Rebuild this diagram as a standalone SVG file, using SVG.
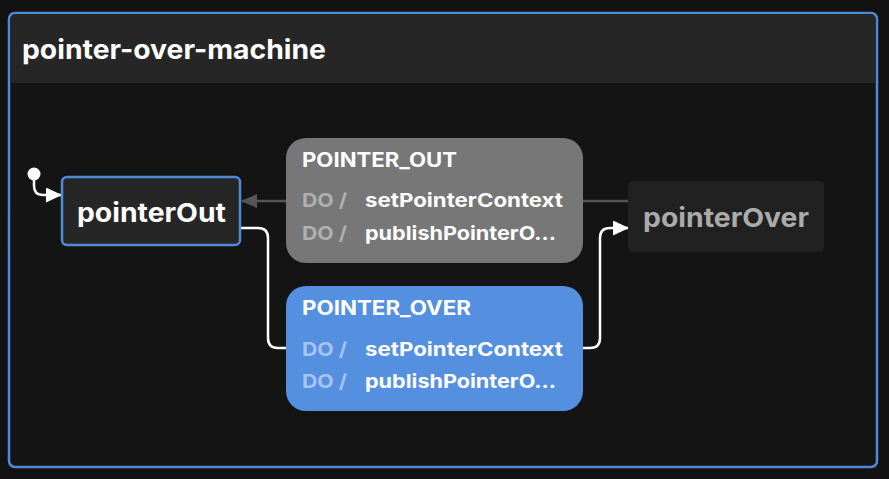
<svg xmlns="http://www.w3.org/2000/svg" width="889" height="479" viewBox="0 0 889 479">
<style>
text{font-family:Inter,"Liberation Sans",sans-serif;font-weight:700}
.title{font-size:27px;fill:#fff}
.state{font-size:26px}
.ev{font-size:19.5px;fill:#fff}
.do{font-size:19px}
.act{font-size:19px;fill:#fff}
</style>
<defs>
<marker id="aw" markerWidth="16" markerHeight="15" refX="15" refY="7.5" orient="auto" markerUnits="userSpaceOnUse"><path d="M0,0 L16,7.5 L0,15 Z" fill="#fff"/></marker>
<marker id="ag" markerWidth="16" markerHeight="14" refX="15" refY="7" orient="auto" markerUnits="userSpaceOnUse"><path d="M0,0 L16,7 L0,14 Z" fill="#555"/></marker>
</defs>
<rect width="889" height="479" fill="#121212"/>
<g id="machine">
<rect x="9" y="13" width="868" height="454" rx="6" fill="#141414" stroke="#4f8ad8" stroke-width="2.5"/>
<path d="M10.5,83 V19 a5,5 0 0 1 5,-5 H870.5 a5,5 0 0 1 5,5 V83 Z" fill="#262626"/>
<text class="title" x="22" y="59" textLength="304" lengthAdjust="spacingAndGlyphs">pointer-over-machine</text>
</g>
<g id="connectors" fill="none">
<circle cx="34" cy="174" r="6.5" fill="#fff"/>
<path d="M34,174 V186 q0,9 9,9 H61" stroke="#fff" stroke-width="2.5" marker-end="url(#aw)"/>
<path d="M628,201 H583 M286,201 H242" stroke="#555" stroke-width="2.5" marker-end="url(#ag)"/>
<path d="M240,228 H258 q10,0 10,10 V338 q0,10 10,10 H286" stroke="#fff" stroke-width="2.5"/>
<path d="M583,348 H590 q10,0 10,-10 V238 q0,-10 10,-10 H628" stroke="#fff" stroke-width="2.5" marker-end="url(#aw)"/>
</g>
<g id="pointerOut">
<rect x="62" y="177" width="178" height="68" rx="5" fill="#262626" stroke="#4f8ad8" stroke-width="2.5"/>
<text class="state" x="77" y="222" fill="#fff" textLength="149" lengthAdjust="spacingAndGlyphs">pointerOut</text>
</g>
<g id="pointerOver">
<rect x="628" y="181" width="196" height="71" rx="5" fill="#212121"/>
<text class="state" x="643" y="227" fill="#ababab" textLength="166" lengthAdjust="spacingAndGlyphs">pointerOver</text>
</g>
<g id="t_pointer_out">
<rect x="286" y="138" width="297" height="125" rx="20" fill="#777777"/>
<text class="ev" x="302" y="167" textLength="155" lengthAdjust="spacingAndGlyphs">POINTER_OUT</text>
<text class="do" x="302" y="207" fill="#b0b0b0" textLength="45" lengthAdjust="spacingAndGlyphs">DO /</text>
<text class="act" x="365" y="207" textLength="198" lengthAdjust="spacingAndGlyphs">setPointerContext</text>
<text class="do" x="302" y="240" fill="#b0b0b0" textLength="45" lengthAdjust="spacingAndGlyphs">DO /</text>
<text class="act" x="365" y="240" textLength="191" lengthAdjust="spacingAndGlyphs">publishPointerO...</text>
</g>
<g id="t_pointer_over">
<rect x="286" y="286" width="297" height="125" rx="20" fill="#5590e0"/>
<text class="ev" x="302" y="315" textLength="169" lengthAdjust="spacingAndGlyphs">POINTER_OVER</text>
<text class="do" x="302" y="356" fill="#a7c4ef" textLength="45" lengthAdjust="spacingAndGlyphs">DO /</text>
<text class="act" x="365" y="356" textLength="198" lengthAdjust="spacingAndGlyphs">setPointerContext</text>
<text class="do" x="302" y="388" fill="#a7c4ef" textLength="45" lengthAdjust="spacingAndGlyphs">DO /</text>
<text class="act" x="365" y="388" textLength="191" lengthAdjust="spacingAndGlyphs">publishPointerO...</text>
</g>
</svg>
